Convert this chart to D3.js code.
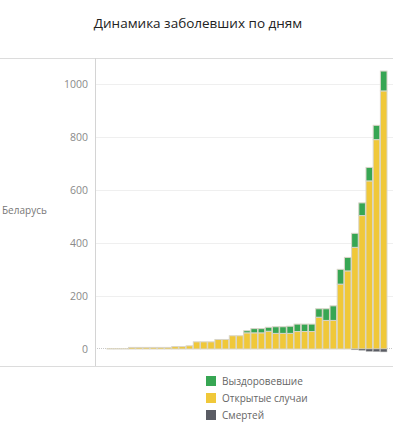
<!DOCTYPE html>
<html>
<head>
<meta charset="utf-8">
<script src="https://cdn.jsdelivr.net/npm/d3@7"></script>
<style>
  body { margin: 0; background: #fff; }
  svg { display: block; font-family: "Open Sans", "Noto Sans", sans-serif; }
</style>
</head>
<body>
<svg id="chart" width="393" height="431"></svg>
<script>
// Data (Беларусь, 01.03 - 08.04)
const days = [
  "01.03","02.03","03.03","04.03","05.03","06.03","07.03","08.03","09.03","10.03",
  "11.03","12.03","13.03","14.03","15.03","16.03","17.03","18.03","19.03","20.03",
  "21.03","22.03","23.03","24.03","25.03","26.03","27.03","28.03","29.03","30.03",
  "31.03","01.04","02.04","03.04","04.04","05.04","06.04","07.04","08.04"
];
const openCases = [
  1, 1, 1, 6, 6, 6, 6, 6, 6, 9,
  9, 12, 27, 27, 27, 36, 36, 50, 50, 61,
  61, 61, 67, 59, 59, 59, 66, 66, 66, 120,
  108, 108, 245, 295, 384, 504, 635, 791, 975
];
const recovered = [
  0, 0, 0, 0, 0, 0, 0, 0, 0, 0,
  0, 0, 0, 0, 0, 0, 0, 0, 0, 8,
  16, 16, 15, 25, 25, 27, 28, 28, 28, 32,
  44, 55, 56, 51, 53, 48, 51, 54, 75
];
const deaths = [
  0, 0, 0, 0, 0, 0, 0, 0, 0, 0,
  0, 0, 0, 0, 0, 0, 0, 0, 0, 0,
  0, 0, 0, 0, 0, 0, 0, 0, 0, 0,
  0, 0, 0, 0, 3, 5, 9, 10, 11
];
const yTicks = [0, 200, 400, 600, 800, 1000];
const legendItems = ["Выздоровевшие", "Открытые случаи", "Смертей"];

const palette = {
  recovered: "#37a653",
  open: "#f0c839",
  deaths: "#5a5c64",
  border: "#d9d5c8"
};

const W = 393, H = 431;
const plot = { left: 95, right: 393, top: 58, bottom: 366 };

const svg = d3.select("#chart");

// title
svg.append("text")
  .attr("x", 198)
  .attr("y", 28)
  .attr("text-anchor", "middle")
  .attr("fill", "#222")
  .style("font-size", "13.5px")
  .text("Динамика заболевших по дням");

// frame lines
svg.append("line")
  .attr("x1", 0).attr("x2", W)
  .attr("y1", plot.top + 0.5).attr("y2", plot.top + 0.5)
  .attr("stroke", "#dcdcdc");
svg.append("line")
  .attr("x1", 0).attr("x2", W)
  .attr("y1", plot.bottom + 0.5).attr("y2", plot.bottom + 0.5)
  .attr("stroke", "#dcdcdc");

const x = d3.scaleBand()
  .domain(days)
  .range([107, 387])
  .paddingInner(0.08);

const y = d3.scaleLinear()
  .domain([0, 1000])
  .range([349, 84.3]);

// gridlines
svg.append("g")
  .selectAll("line")
  .data(yTicks.filter(d => d > 0))
  .join("line")
    .attr("x1", plot.left).attr("x2", plot.right)
    .attr("y1", d => Math.round(y(d)) + 0.5)
    .attr("y2", d => Math.round(y(d)) + 0.5)
    .attr("stroke", "#efefef");

// zero line (dotted)
svg.append("line")
  .attr("x1", plot.left).attr("x2", plot.right)
  .attr("y1", Math.round(y(0)) - 0.5).attr("y2", Math.round(y(0)) - 0.5)
  .attr("stroke", "#c8c8c8")
  .attr("stroke-dasharray", "1,1");

// y axis
const yAxis = svg.append("g")
  .attr("transform", `translate(${plot.left},0)`)
  .call(d3.axisLeft(y).tickValues(yTicks).tickFormat(d3.format("d")).tickSize(0).tickPadding(7));
yAxis.select(".domain").remove();
yAxis.selectAll("text")
  .attr("fill", "#8a8a8a")
  .style("font-size", "10.5px")
  .style("font-family", "'Open Sans', sans-serif");

svg.append("line")
  .attr("x1", plot.left + 0.5).attr("x2", plot.left + 0.5)
  .attr("y1", plot.top).attr("y2", plot.bottom)
  .attr("stroke", "#d4d4d4");

// row label
svg.append("text")
  .attr("x", 2)
  .attr("y", 214)
  .attr("fill", "#777")
  .style("font-size", "10px")
  .text("Беларусь");

// bars
const rows = days.map((d, i) => ({
  day: d, open: openCases[i], recovered: recovered[i], deaths: deaths[i]
}));

const bars = svg.append("g");

bars.selectAll(".bar-open")
  .data(rows)
  .join("rect")
    .attr("class", "bar-open")
    .attr("x", d => x(d.day))
    .attr("width", x.bandwidth())
    .attr("y", d => y(d.open))
    .attr("height", d => y(0) - y(d.open))
    .attr("fill", palette.open)
    .attr("stroke", palette.border)
    .attr("stroke-width", 1);

bars.selectAll(".bar-rec")
  .data(rows.filter(d => d.recovered > 0))
  .join("rect")
    .attr("class", "bar-rec")
    .attr("x", d => x(d.day))
    .attr("width", x.bandwidth())
    .attr("y", d => y(d.open + d.recovered))
    .attr("height", d => y(d.open) - y(d.open + d.recovered))
    .attr("fill", palette.recovered)
    .attr("stroke", palette.border)
    .attr("stroke-width", 1);

bars.selectAll(".bar-death")
  .data(rows.filter(d => d.deaths > 0))
  .join("rect")
    .attr("class", "bar-death")
    .attr("x", d => x(d.day))
    .attr("width", x.bandwidth())
    .attr("y", y(0))
    .attr("height", d => y(-d.deaths) - y(0))
    .attr("fill", palette.deaths)
    .attr("stroke", "#bbb")
    .attr("stroke-width", 0.5);

// legend
const legendColors = [palette.recovered, palette.open, palette.deaths];
const legend = svg.append("g")
  .selectAll("g")
  .data(legendItems)
  .join("g")
    .attr("transform", (d, i) => `translate(206,${376 + i * 17})`);

legend.append("rect")
  .attr("width", 10)
  .attr("height", 10)
  .attr("fill", (d, i) => legendColors[i]);

legend.append("text")
  .attr("x", 16)
  .attr("y", 9)
  .attr("fill", "#666")
  .style("font-size", "10px")
  .text(d => d);
</script>
</body>
</html>
